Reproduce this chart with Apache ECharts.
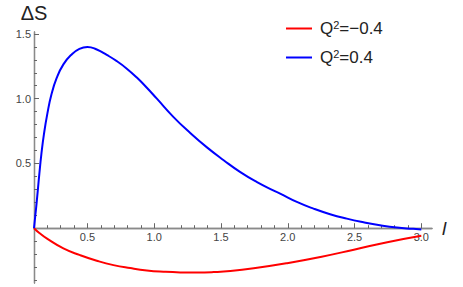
<!DOCTYPE html>
<html>
<head>
<meta charset="utf-8">
<script src="https://cdn.jsdelivr.net/npm/echarts@6/dist/echarts.min.js"></script>
<style>html,body{margin:0;padding:0;background:#fff}#c{width:463px;height:287px}</style>
</head>
<body>
<div id="c"></div>
<script>
// Data
const seriesNames = ['Q^2=-0.4', 'Q^2=0.4'];
const redX = [0.1, 0.14, 0.195, 0.32, 0.445, 0.57, 0.695, 0.82, 0.945, 1.07, 1.195, 1.32, 1.445, 1.57, 1.745, 1.995, 2.245, 2.495, 2.745, 3.0];
const redY = [0, -0.037, -0.079, -0.156, -0.208, -0.251, -0.285, -0.308, -0.326, -0.336, -0.341, -0.342, -0.339, -0.331, -0.31, -0.27, -0.222, -0.166, -0.108, -0.058];
const blueX = [0.1, 0.11, 0.12, 0.13, 0.14, 0.155, 0.175, 0.2, 0.23, 0.27, 0.32, 0.38, 0.44, 0.5, 0.57, 0.645, 0.72, 0.795, 0.87, 0.945, 1.02, 1.145, 1.27, 1.395, 1.52, 1.645, 1.77, 1.895, 1.943, 2.068, 2.193, 2.317, 2.442, 2.567, 2.69, 2.817, 2.94, 3.0];
const blueY = [0, 0.1, 0.2, 0.31, 0.42, 0.57, 0.73, 0.885, 1.03, 1.16, 1.265, 1.34, 1.385, 1.40, 1.38, 1.338, 1.29, 1.232, 1.163, 1.085, 1.0, 0.858, 0.735, 0.624, 0.525, 0.433, 0.356, 0.29, 0.267, 0.203, 0.151, 0.108, 0.074, 0.046, 0.023, 0.005, -0.005, -0.01];
const xMajorTicks = [0.5, 1.0, 1.5, 2.0, 2.5, 3.0];
const xMinorTicks = [0.1, 0.2, 0.3, 0.4, 0.6, 0.7, 0.8, 0.9, 1.1, 1.2, 1.3, 1.4, 1.6, 1.7, 1.8, 1.9, 2.1, 2.2, 2.3, 2.4, 2.6, 2.7, 2.8, 2.9];
const yMajorTicks = [0.5, 1.0, 1.5];
const yMinorTicks = [-0.4, -0.3, -0.2, -0.1, 0.1, 0.2, 0.3, 0.4, 0.6, 0.7, 0.8, 0.9, 1.1, 1.2, 1.3, 1.4];

const X_MIN = 0.1, X_MAX = 3.08, Y_MIN = -0.423, Y_MAX = 1.515;
const GRID = { left: 34, right: 31, top: 32, bottom: 4 };
const CHART_H = 287;
const axisColor = '#8a8a8a';
const tickColor = '#666';
const labelStyle = { fontFamily: 'Liberation Sans', fontSize: 11, color: '#444' };

// distance (px) of the value-0 line above the grid bottom, from the y scale
const zeroOffset = (0 - Y_MIN) / (Y_MAX - Y_MIN) * (CHART_H - GRID.top - GRID.bottom);

function xAxisCfg(ticks, len, showLabel, extra) {
  return Object.assign({
    type: 'value', min: X_MIN, max: X_MAX, position: 'bottom',
    axisLine: { show: true, onZero: true, lineStyle: { color: axisColor, width: 1.3 } },
    axisTick: { show: true, inside: true, length: len, customValues: ticks, lineStyle: { color: tickColor, width: 1 } },
    axisLabel: showLabel ? Object.assign({ show: true, customValues: ticks, margin: 3, formatter: v => v.toFixed(1) }, labelStyle) : { show: false },
    splitLine: { show: false }
  }, extra || {});
}
function yAxisCfg(ticks, len, showLabel, extra) {
  return Object.assign({
    type: 'value', min: Y_MIN, max: Y_MAX, position: 'left',
    axisLine: { show: true, onZero: true, lineStyle: { color: axisColor, width: 1.3 } },
    axisTick: { show: true, inside: true, length: len, customValues: ticks, lineStyle: { color: tickColor, width: 1 } },
    axisLabel: showLabel ? Object.assign({ show: true, customValues: ticks, margin: 3, formatter: v => v.toFixed(1) }, labelStyle) : { show: false },
    splitLine: { show: false }
  }, extra || {});
}

const chart = echarts.init(document.getElementById('c'), null, { renderer: 'svg' });
const richQ = {
  q: { fontFamily: 'Liberation Sans', fontSize: 17, color: '#222' },
  s: { fontFamily: 'Liberation Sans', fontSize: 11, color: '#222', verticalAlign: 'bottom', padding: [0, 0, 8, 0] }
};
chart.setOption({
  animation: false,
  grid: Object.assign({ containLabel: false, outerBoundsMode: 'none' }, GRID),
  xAxis: [
    xAxisCfg(xMinorTicks, 3, false, {
      name: 'l', nameLocation: 'end', nameGap: 10,
      nameTextStyle: { fontFamily: 'Liberation Sans', fontStyle: 'italic', fontSize: 19, color: '#222', verticalAlign: 'middle', padding: [2, 0, 0, 0] }
    }),
    xAxisCfg(xMajorTicks, 5, true, {
      axisLine: { show: true, onZero: false, lineStyle: { color: axisColor, width: 1.3 } },
      offset: -zeroOffset
    })
  ],
  yAxis: [
    yAxisCfg(yMinorTicks, 3, false, {
      name: 'ΔS', nameLocation: 'end', nameGap: 9,
      nameTextStyle: { fontFamily: 'Liberation Sans', fontSize: 20, color: '#222' }
    }),
    yAxisCfg(yMajorTicks, 5, true, {
      axisLine: { show: true, onZero: false, lineStyle: { color: axisColor, width: 1.3 } }
    })
  ],
  legend: {
    orient: 'vertical', left: 281, top: 14,
    icon: 'rect', itemWidth: 26, itemHeight: 2, itemGap: 11,
    data: seriesNames,
    formatter: name => {
      const parts = name.split('^2');
      return '{q|' + parts[0] + '}{s|2}{q|' + parts[1].replace('-', '\u2212') + '}';
    },
    textStyle: { rich: richQ, padding: [0, 0, 0, 3] }
  },
  series: [
    {
      name: seriesNames[0], type: 'line', xAxisIndex: 0, yAxisIndex: 0, showSymbol: false, smooth: 0.5,
      lineStyle: { color: '#ff0000', width: 2 }, itemStyle: { color: '#ff0000' },
      data: redX.map((x, i) => [x, redY[i]])
    },
    {
      name: seriesNames[1], type: 'line', xAxisIndex: 0, yAxisIndex: 0, showSymbol: false, smooth: 0.5,
      lineStyle: { color: '#0000ff', width: 2 }, itemStyle: { color: '#0000ff' },
      data: blueX.map((x, i) => [x, blueY[i]])
    }
  ]
});
</script>
</body>
</html>
